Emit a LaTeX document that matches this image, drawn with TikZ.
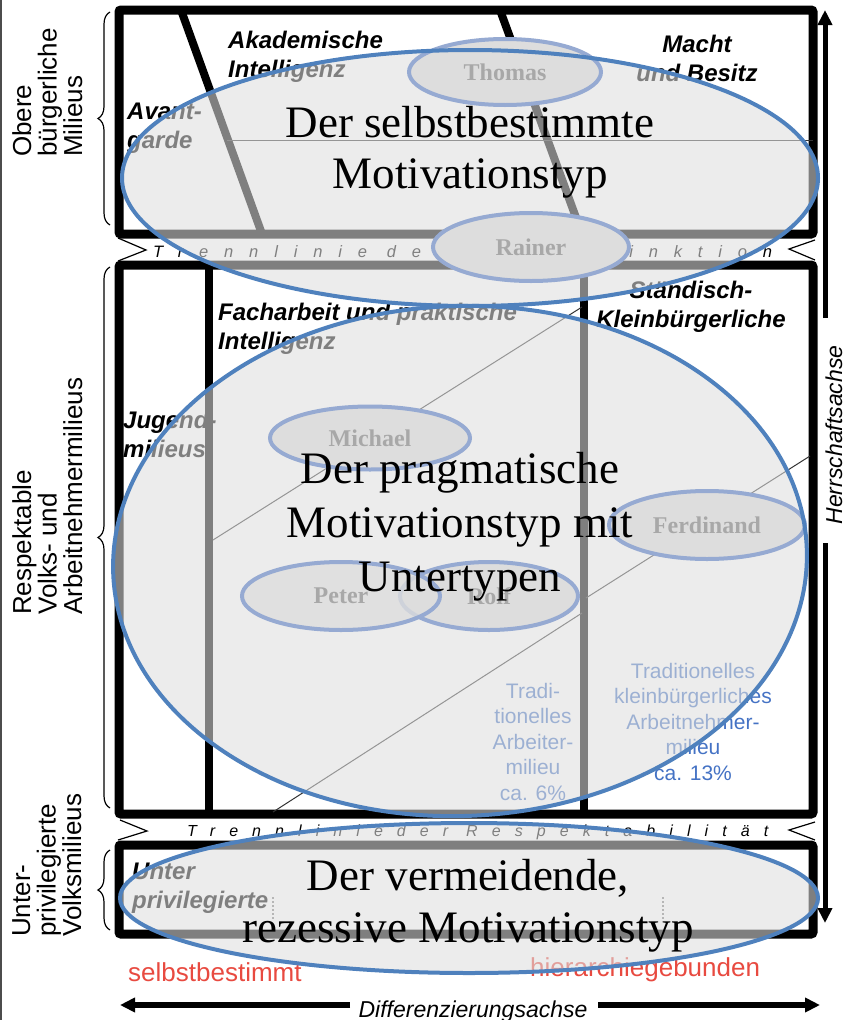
\documentclass[tikz,border=0pt]{standalone}
\usepackage{fontspec}
\setmainfont{Liberation Serif}
\setsansfont{Liberation Sans}
\usetikzlibrary{arrows.meta,decorations.pathreplacing,shapes.geometric}

\definecolor{ringblue}{RGB}{79,129,189}
\definecolor{ringlight}{RGB}{150,170,210}
\definecolor{ellgray}{RGB}{222,222,222}
\definecolor{namefill}{RGB}{221,221,221}
\definecolor{namegray}{RGB}{168,168,168}
\definecolor{txtblue}{RGB}{68,114,196}
\definecolor{txtred}{RGB}{232,74,64}

\tikzset{
  milieubox/.style={line width=9pt, rounded corners=2pt},
  teiler/.style={line width=8pt},
  duenn/.style={line width=1pt, black!80},
  zacke/.style={line width=1.2pt},
  milieutext/.style={font=\sffamily\bfseries\itshape\fontsize{24}{29}\selectfont, inner sep=0pt, align=left},
  blautext/.style={font=\sffamily\fontsize{21}{25.5}\selectfont, text=txtblue, inner sep=0pt, align=center, anchor=north},
  rottext/.style={font=\sffamily\fontsize{26}{30}\selectfont, text=txtred, inner sep=0pt, anchor=base west},
  trenntext/.style 2 args={font=\sffamily\itshape\fontsize{#1}{18}\selectfont\addfontfeature{LetterSpace=#2}, inner sep=0pt, anchor=base west},
  seitentext/.style={rotate=90, anchor=north west, align=left, font=\sffamily\fontsize{26}{25.5}\selectfont, inner sep=0pt},
  klammer/.style={decorate, decoration={brace, amplitude=12pt}, line width=1.2pt},
  achspfeil/.style={line width=5pt, -{Triangle[length=15pt, width=14pt]}},
  achstext/.style={font=\sffamily\itshape\fontsize{23}{26}\selectfont, inner sep=0pt},
  grossfuell/.style={fill=ellgray, fill opacity=.575},
  grossring/.style={draw=ringblue, line width=4pt},
  person/.style={ellipse, draw=ringlight, line width=4pt, fill=namefill, text=namegray, font=\bfseries\fontsize{24}{24}\selectfont, inner sep=0pt},
  motivtext/.style={anchor=north, align=center, inner sep=0pt}
}

\begin{document}
\begin{tikzpicture}[x=1pt,y=-1pt]
\useasboundingbox (0,0) rectangle (850,1020);
\draw[black!70, line width=2pt] (1,0) -- (1,1020);

% Milieu-Kaesten
\draw[milieubox] (119,10) rectangle (813,234);
\draw[milieubox] (119,265) rectangle (813,814);
\draw[milieubox] (119,845) rectangle (813,934);

% obere Milieus
\draw[teiler] (181,10) -- (262,234);
\draw[teiler] (500,10) -- (582,234);
\draw[duenn] (227,140) -- (813,140);

% mittlere Milieus
\draw[teiler] (209,265) -- (209,814);
\draw[teiler] (584,265) -- (584,814);
\draw[duenn] (213,540) -- (582,307);
\draw[duenn] (273,812) -- (582,613);
\draw[duenn] (586,598) -- (810,456);

% untere Milieus
\draw[gray, dotted, line width=2pt] (273,897) -- (273,920);
\draw[gray, dotted, line width=2pt] (663,897) -- (663,920);

% Trennlinien
\draw[zacke] (118,238) -- (146,250) -- (118,261);
\draw[zacke] (815,240) -- (789,249) -- (815,260);
\draw[zacke] (120,820) -- (147,831) -- (118,840);
\draw[zacke] (815,822) -- (789,830) -- (815,840);
\node[trenntext={16.5}{96}] (distinktion) at (153,257) {Trennlinie\hspace{20pt}der\hspace{95pt}Distinktion};
\node[trenntext={16}{88}] (respektab) at (187,836) {Trennlinie\hspace{14pt}der\hspace{18pt}Respektabilität};

% Milieu-Namen
\node[milieutext, anchor=north west] (akad) at (228,30.5) {Akademische\\Intelligenz};
\node[milieutext, anchor=north west] (avant) at (127,102.8) {Avant-\\garde};
\node[milieutext, anchor=north, align=center] (macht) at (697,34.5) {Macht\\und Besitz};
\node[milieutext, anchor=north west] (fach) at (218,302.5) {Facharbeit und praktische\\Intelligenz};
\node[milieutext, anchor=north, align=center] (staend) at (691,280.5) {Ständisch-\\Kleinbürgerliche};
\node[milieutext, anchor=north west] (jugend) at (123,410.5) {Jugend-\\milieus};
\node[milieutext, anchor=north west] (unter) at (132,862.5) {Unter\\privilegierte};

\node[blautext] (tradarb) at (533,682.7) {Tradi-\\tionelles\\Arbeiter-\\milieu\\ca. 6\%};
\node[blautext] (tradklein) at (693,662.7) {Traditionelles\\kleinbürgerliches\\Arbeitnehmer-\\milieu\\ca. 13\%};

\node[rottext] (selbst) at (128,981) {selbstbestimmt};
\node[rottext] (hierarch) at (530,976) {hierarchiegebunden};

% Seitenbeschriftung
\node[seitentext] (obere) at (12,157) {Obere\\bürgerliche\\Milieus};
\node[seitentext] (respekt) at (12,615) {Respektable\\Volks- und\\Arbeitnehmermilieus};
\node[seitentext] (unterpriv) at (12,937) {Unter-\\privilegierte\\Volksmilieus};
\draw[klammer] (110,225) -- (110,12);
\draw[klammer] (110,808) -- (110,267);
\draw[klammer] (110,930) -- (110,850);

% Achsen
\coordinate (herrOben) at (825,318);
\coordinate (herrSpitze) at (825,10);
\coordinate (herrUnten) at (825,543);
\coordinate (herrEnde) at (825,923);
\draw[achspfeil] (herrOben) -- (herrSpitze);
\draw[achspfeil] (herrUnten) -- (herrEnde);
\node[achstext, rotate=90] (herr) at (834,435) {Herrschaftsachse};
\coordinate (diffLinks) at (350,1005);
\coordinate (diffLSpitze) at (120,1005);
\coordinate (diffRechts) at (598,1005);
\coordinate (diffRSpitze) at (820,1005);
\draw[achspfeil, line width=6pt] (diffLinks) -- (diffLSpitze);
\draw[achspfeil, line width=6pt] (diffRechts) -- (diffRSpitze);
\node[achstext, anchor=base] (diff) at (473,1017) {Differenzierungsachse};

% Motivationstypen
\fill[grossfuell] (470,178) ellipse [x radius=348pt, y radius=128pt];
\fill[grossfuell, rotate around={2:(460,561)}] (460,561) ellipse [x radius=347pt, y radius=255pt];
\fill[grossfuell] (469,898) ellipse [x radius=349pt, y radius=75pt];

\node[person, minimum width=192pt, minimum height=66pt] (thomas) at (505,72) {Thomas};
\node[person, minimum width=196pt, minimum height=68pt] (rainer) at (531,247) {Rainer};
\node[person, minimum width=200pt, minimum height=63pt] (michael) at (370,438) {Michael};
\node[person, minimum width=196pt, minimum height=68pt] (ferdinand) at (707,525) {Ferdinand};
\node[person, minimum width=178pt, minimum height=68pt] (rolf) at (489,596) {Rolf};
\node[person, minimum width=198pt, minimum height=68pt, fill opacity=.8, text opacity=1] (peter) at (341,596) {Peter};

\draw[grossring] (470,178) ellipse [x radius=348pt, y radius=128pt];
\draw[grossring, rotate around={2:(460,561)}] (460,561) ellipse [x radius=347pt, y radius=255pt];
\draw[grossring] (469,898) ellipse [x radius=349pt, y radius=75pt];

\node[motivtext, font=\fontsize{45}{51}\selectfont] (selbsttyp) at (470,106) {Der selbstbestimmte\\Motivationstyp};
\node[motivtext, font=\fontsize{45}{54}\selectfont] (pragtyp) at (460,452) {Der pragmatische\\Motivationstyp mit\\Untertypen};
\node[motivtext, font=\fontsize{45}{52}\selectfont] (vermtyp) at (468,859) {Der vermeidende,\\rezessive Motivationstyp};
\end{tikzpicture}
\end{document}
